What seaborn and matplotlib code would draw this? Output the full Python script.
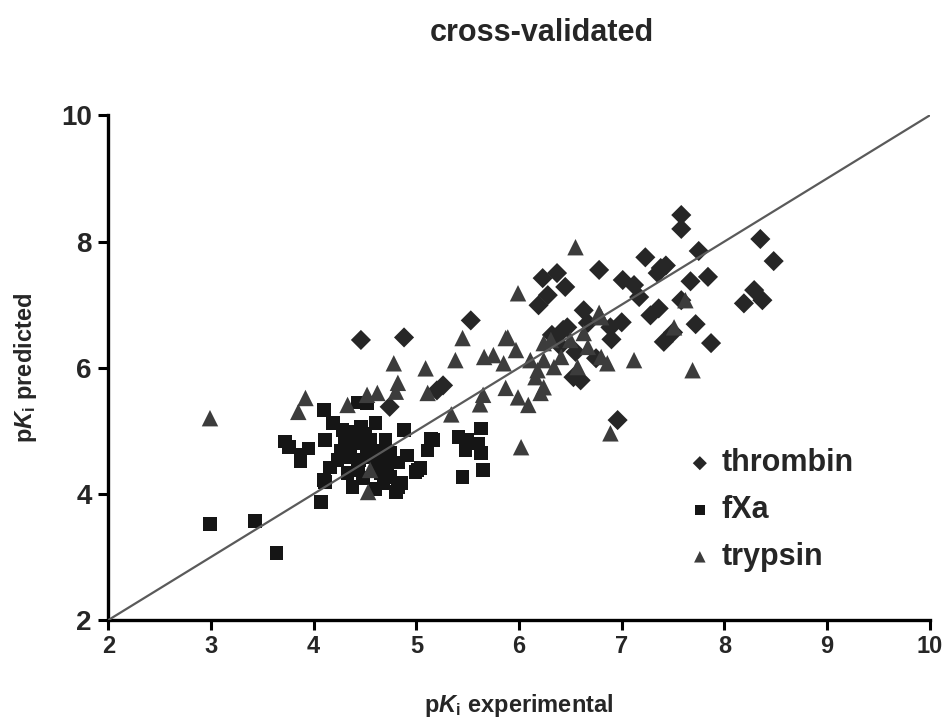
import matplotlib
matplotlib.use("Agg")
import matplotlib.pyplot as plt
import seaborn as sns
import pandas as pd

# ---------------- data ----------------
thrombin_x = [4.46, 4.88, 5.53, 4.74, 5.20, 5.26, 6.23, 6.37, 6.45, 6.28, 6.19, 6.78, 7.01,
              7.23, 6.63, 7.12, 7.17, 7.35, 7.58, 7.58, 7.75, 7.38, 7.43, 7.67, 7.84, 8.35,
              8.48, 8.19, 8.29, 8.37, 7.28, 7.36, 7.58, 7.72, 7.41, 7.87, 7.50, 6.96, 6.43,
              6.53, 6.60, 6.67, 6.89, 6.47, 6.32, 6.55, 6.75, 6.90, 6.40, 7.00]
thrombin_y = [6.44, 6.48, 6.75, 5.38, 5.64, 5.72, 7.42, 7.50, 7.28, 7.15, 6.99, 7.55, 7.39,
              7.75, 6.91, 7.31, 7.12, 7.50, 8.42, 8.20, 7.85, 7.58, 7.62, 7.37, 7.44, 8.04,
              7.69, 7.02, 7.23, 7.07, 6.83, 6.94, 7.07, 6.69, 6.41, 6.39, 6.56, 5.17, 6.60,
              5.85, 5.80, 6.71, 6.64, 6.64, 6.52, 6.25, 6.15, 6.45, 6.35, 6.72]

fxa_x = [2.99, 3.43, 3.64, 3.72, 3.76, 3.87, 3.87, 3.95, 4.10, 4.11, 4.07, 4.11, 4.16, 4.19,
         4.28, 4.46, 4.60, 4.41, 4.55, 4.26, 4.34, 4.23, 4.44, 4.58, 4.65, 4.75, 4.72, 4.82,
         4.33, 4.43, 4.65, 4.75, 4.85, 4.38, 4.68, 4.10, 4.88, 4.91, 5.01, 5.11, 5.16, 4.82,
         4.52, 5.14, 5.41, 5.50, 5.63, 5.48, 5.60, 5.63, 5.04, 4.99, 5.45, 5.65, 4.43, 4.52,
         4.30, 4.50, 4.62, 4.36, 4.48, 4.60, 4.70, 4.40, 4.80, 4.60]
fxa_y = [3.52, 3.57, 3.06, 4.83, 4.74, 4.62, 4.52, 4.72, 5.33, 4.85, 3.87, 4.19, 4.42, 5.12,
         5.01, 5.06, 5.12, 4.80, 4.85, 4.69, 4.58, 4.54, 4.54, 4.58, 4.69, 4.65, 4.49, 4.50,
         4.33, 4.38, 4.33, 4.27, 4.17, 4.11, 4.17, 4.22, 5.01, 4.61, 4.38, 4.69, 4.85, 4.11,
         4.74, 4.88, 4.90, 4.85, 5.04, 4.69, 4.80, 4.65, 4.41, 4.35, 4.27, 4.38, 5.45, 5.44,
         4.90, 4.95, 4.45, 4.72, 4.25, 4.60, 4.85, 4.98, 4.03, 4.08]

trypsin_x = [2.99, 3.92, 3.85, 4.33, 4.52, 4.62, 4.82, 5.11, 4.55, 4.53, 4.78, 5.09, 5.38,
             5.45, 5.87, 5.66, 5.75, 5.97, 5.85, 4.80, 5.65, 5.62, 5.34, 5.87, 5.99, 6.09,
             6.21, 6.24, 6.24, 6.31, 6.18, 6.02, 6.89, 7.12, 7.69, 5.99, 6.55, 6.78, 7.62,
             7.51, 5.89, 6.11, 6.24, 6.34, 6.50, 6.80, 6.80, 6.86, 6.67, 6.57, 6.16, 6.41,
             6.63]
trypsin_y = [5.20, 5.52, 5.30, 5.41, 5.57, 5.60, 5.76, 5.60, 4.38, 4.03, 6.07, 5.99, 6.12,
             6.47, 6.47, 6.17, 6.20, 6.28, 6.07, 5.62, 5.57, 5.42, 5.26, 5.68, 5.53, 5.41,
             5.60, 5.69, 6.12, 6.44, 5.96, 4.74, 4.96, 6.12, 5.96, 7.18, 7.91, 6.87, 7.07,
             6.64, 6.48, 6.12, 6.39, 6.01, 6.44, 6.80, 6.17, 6.07, 6.33, 6.01, 5.85, 6.17,
             6.55]

series_names = ["thrombin", "fXa", "trypsin"]
axis_ticks = [2, 3, 4, 5, 6, 7, 8, 9, 10]
y_ticks = [2, 4, 6, 8, 10]
diag = [2, 10]

# ---------------- styling ----------------
sns.set_style("white")
plt.rcParams["font.family"] = ["Liberation Sans", "DejaVu Sans"]
plt.rcParams["mathtext.fontset"] = "custom"
plt.rcParams["mathtext.rm"] = "Liberation Sans:bold"
plt.rcParams["mathtext.it"] = "Liberation Sans:italic:bold"
plt.rcParams["mathtext.bf"] = "Liberation Sans:bold"

df = pd.concat([
    pd.DataFrame({"x": thrombin_x, "y": thrombin_y, "enzyme": "thrombin"}),
    pd.DataFrame({"x": fxa_x, "y": fxa_y, "enzyme": "fXa"}),
    pd.DataFrame({"x": trypsin_x, "y": trypsin_y, "enzyme": "trypsin"}),
], ignore_index=True)

palette = {"thrombin": "#262626", "fXa": "#151515", "trypsin": "#3c3c3c"}
markers = {"thrombin": "D", "fXa": "s", "trypsin": "^"}
sizes_map = {"thrombin": 105, "fXa": 95, "trypsin": 140}

fig = plt.figure(figsize=(9.42, 7.21), dpi=100)
ax = fig.add_axes([0.115, 0.140, 0.872, 0.700])

for name in series_names:
    sub = df[df["enzyme"] == name]
    sns.scatterplot(data=sub, x="x", y="y", color=palette[name], marker=markers[name],
                    s=sizes_map[name], edgecolor="none", linewidth=0, ax=ax,
                    label=name, zorder=2)

ax.plot(diag, diag, color="#5a5a5a", linewidth=1.6, zorder=3)

ax.set_xlim(2, 10)
ax.set_ylim(2, 10)
ax.set_xticks(axis_ticks)
ax.set_yticks(y_ticks)
ax.set_xticklabels([str(t) for t in axis_ticks], fontsize=17, fontweight="bold")
ax.set_yticklabels([str(t) for t in y_ticks], fontsize=20, fontweight="bold")
for side in ["top", "right"]:
    ax.spines[side].set_visible(False)
for side in ["left", "bottom"]:
    ax.spines[side].set_linewidth(2.4)
    ax.spines[side].set_color("black")
ax.tick_params(axis="both", which="major", bottom=True, left=True, direction="out",
               length=7, width=2.2, color="black")
ax.tick_params(axis="x", pad=4)
ax.tick_params(axis="y", pad=5)

ax.set_xlabel(r"p$K_{\rm i}$ experimental", fontsize=17, fontweight="bold", labelpad=24)
ax.set_ylabel(r"p$K_{\rm i}$ predicted", fontsize=17, fontweight="bold", labelpad=16)
fig.suptitle("cross-validated", x=0.575, y=0.975, fontsize=22, fontweight="bold")

leg = ax.legend(loc="upper left", bbox_to_anchor=(0.668, 0.395), frameon=False,
                prop={"family": "Liberation Sans", "weight": "bold", "size": 22},
                markerscale=0.7, handletextpad=0.2, labelspacing=0.55, handlelength=1.0)

fig.savefig("out.png", dpi=100, facecolor="white")
